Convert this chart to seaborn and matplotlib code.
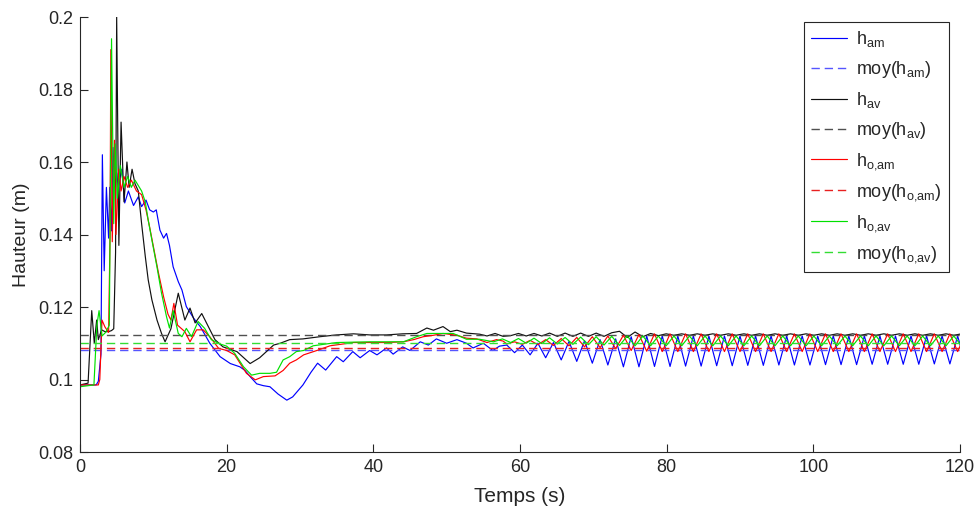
import numpy as np
import pandas as pd
import matplotlib
matplotlib.use("Agg")
import matplotlib.pyplot as plt
import seaborn as sns
from matplotlib.ticker import FormatStrFormatter

# ===============================================
# Données
# ===============================================

# temps des extrema dans le régime périodique (h_am et h_o,am)
t_osc_a = [58.2, 59.26, 60.32, 61.38, 62.44, 63.5, 64.56, 65.62, 66.68, 67.74,
           68.8, 69.86, 70.92, 71.98, 73.04, 74.1, 75.16, 76.22, 77.28, 78.34,
           79.4, 80.46, 81.52, 82.58, 83.64, 84.7, 85.76, 86.82, 87.88, 88.94,
           90.0, 91.06, 92.12, 93.18, 94.24, 95.3, 96.36, 97.42, 98.48, 99.54,
           100.6, 101.66, 102.72, 103.78, 104.84, 105.9, 106.96, 108.02, 109.08, 110.14,
           111.2, 112.26, 113.32, 114.38, 115.44, 116.5, 117.56, 118.62, 119.68, 120.74]

# temps des extrema dans le régime périodique (h_av et h_o,av)
t_osc_b = [58.73, 59.79, 60.85, 61.91, 62.97, 64.03, 65.09, 66.15, 67.21, 68.27,
           69.33, 70.39, 71.45, 72.51, 73.57, 74.63, 75.69, 76.75, 77.81, 78.87,
           79.93, 80.99, 82.05, 83.11, 84.17, 85.23, 86.29, 87.35, 88.41, 89.47,
           90.53, 91.59, 92.65, 93.71, 94.77, 95.83, 96.89, 97.95, 99.01, 100.07,
           101.13, 102.19, 103.25, 104.31, 105.37, 106.43, 107.49, 108.55, 109.61, 110.67,
           111.73, 112.79, 113.85, 114.91, 115.97, 117.03, 118.09, 119.15, 120.21]

# h_am (bleu)
t_am = [0, 2.2, 2.5, 2.86, 3.05, 3.3, 3.6, 3.9, 4.05, 4.3,
        4.5, 4.75, 5.0, 5.2, 5.7, 6.1, 6.6, 7.3, 7.95, 8.4,
        9.0, 9.5, 10.0, 10.4, 10.9, 11.4, 11.8, 12.2, 12.7, 13.4,
        13.9, 14.5, 15.0, 15.5, 16.4, 17.7, 19.1, 20.5, 21.8, 22.5,
        23.2, 24.1, 25.0, 25.9, 27.0, 28.2, 29.0, 30.4, 31.5, 32.4,
        33.5, 35.0, 35.9, 37.2, 38.2, 39.5, 40.5, 41.8, 42.7, 44.0,
        45.0, 46.4, 47.5, 48.6, 50.0, 51.4, 52.7, 53.6, 55.0, 56.3,
        57.2]
h_am = [0.0985, 0.0985, 0.0995, 0.107, 0.162, 0.130, 0.153, 0.139, 0.153, 0.141,
        0.164, 0.153, 0.157, 0.153, 0.158, 0.1487, 0.152, 0.148, 0.1504, 0.1477,
        0.1495, 0.1468, 0.1462, 0.1468, 0.1412, 0.1390, 0.1403, 0.137, 0.1311, 0.127,
        0.1247, 0.1201, 0.1185, 0.1169, 0.1146, 0.110, 0.1063, 0.1044, 0.1035, 0.1025,
        0.1008, 0.0988, 0.0983, 0.0980, 0.0960, 0.0943, 0.0952, 0.0985, 0.1020, 0.1045,
        0.1026, 0.1063, 0.1049, 0.1077, 0.1060, 0.1080, 0.1068, 0.1087, 0.1070, 0.1090,
        0.1080, 0.1104, 0.1095, 0.1112, 0.1100, 0.1110, 0.1100, 0.1087, 0.1100, 0.1080,
        0.1092]
h_am_osc = [0.1095, 0.1074, 0.1095, 0.1068, 0.1100, 0.1060, 0.1102, 0.1054, 0.1105, 0.1050,
            0.1107, 0.1045, 0.1110, 0.1040, 0.1112, 0.1035, 0.1118, 0.1035, 0.1120, 0.1036,
            0.1120, 0.1036, 0.1120, 0.1037, 0.1120, 0.1037, 0.1120, 0.1038, 0.1120, 0.1038,
            0.1120, 0.1039, 0.1120, 0.1039, 0.1120, 0.1040, 0.1120, 0.1040, 0.1120, 0.1040,
            0.1120, 0.1041, 0.1120, 0.1041, 0.1120, 0.1041, 0.1120, 0.1042, 0.1120, 0.1042,
            0.1120, 0.1042, 0.1120, 0.1042, 0.1120, 0.1043, 0.1120, 0.1043, 0.1120, 0.1043]

# h_av (noir)
t_av = [0, 1.1, 1.6, 1.95, 2.27, 2.5, 2.95, 3.4, 3.9, 4.3,
        4.6, 4.85, 5.0, 5.3, 5.6, 6.0, 6.4, 6.7, 7.1, 7.5,
        7.95, 8.4, 8.9, 9.3, 9.8, 10.5, 11.1, 11.6, 12.4, 13.4,
        14.3, 15.0, 15.7, 16.6, 17.5, 18.4, 19.5, 21.4, 23.2, 24.5,
        26.4, 27.3, 28.6, 30.4, 32.7, 35.0, 37.3, 39.5, 41.8, 44.0,
        45.9, 47.3, 48.2, 49.5, 50.5, 51.4, 52.7, 54.5, 55.5, 56.6,
        57.7]
h_av = [0.0985, 0.0990, 0.119, 0.110, 0.1164, 0.111, 0.1137, 0.1132, 0.1132, 0.1135,
        0.114, 0.135, 0.200, 0.137, 0.171, 0.149, 0.160, 0.153, 0.158, 0.154,
        0.152, 0.143, 0.134, 0.1275, 0.122, 0.1164, 0.1128, 0.1104, 0.114, 0.1238,
        0.1164, 0.1197, 0.1156, 0.1182, 0.1146, 0.111, 0.109, 0.1077, 0.1044, 0.106,
        0.1095, 0.110, 0.111, 0.1112, 0.1118, 0.1123, 0.1126, 0.1123, 0.1123, 0.1126,
        0.1127, 0.1142, 0.1136, 0.1146, 0.1132, 0.1136, 0.1128, 0.1125, 0.1120, 0.1127,
        0.1119]
h_av_osc = [0.1121, 0.1127, 0.1120, 0.1127, 0.1120, 0.1128, 0.1119, 0.1128, 0.1119, 0.1128,
            0.1119, 0.1128, 0.1119, 0.1129, 0.1133, 0.1116, 0.1131, 0.1118, 0.1127, 0.1121,
            0.1126, 0.1122, 0.1126, 0.1122, 0.1126, 0.1122, 0.1126, 0.1122, 0.1126, 0.1122,
            0.1126, 0.1122, 0.1126, 0.1122, 0.1126, 0.1122, 0.1126, 0.1122, 0.1126, 0.1122,
            0.1126, 0.1122, 0.1126, 0.1122, 0.1126, 0.1122, 0.1126, 0.1122, 0.1126, 0.1122,
            0.1126, 0.1122, 0.1126, 0.1122, 0.1126, 0.1122, 0.1126, 0.1122, 0.1126]

# h_o,am (rouge)
t_oam = [0, 2.5, 2.7, 3.0, 3.4, 3.9, 4.1, 4.2, 4.4, 4.7,
         4.9, 5.3, 5.6, 6.0, 6.5, 7.0, 7.7, 8.4, 9.0, 9.5,
         10.1, 10.7, 11.4, 12.0, 12.4, 12.8, 13.3, 14.3, 15.0, 15.9,
         16.8, 17.7, 18.9, 20.0, 21.1, 22.7, 23.9, 25.0, 26.6, 27.7,
         28.6, 29.5, 30.5, 32.3, 34.1, 37.3, 39.5, 41.8, 44.1, 45.5,
         46.8, 48.2, 49.5, 51.4, 52.7, 54.1, 55.5, 56.8, 57.7]
h_oam = [0.0985, 0.0985, 0.1000, 0.1164, 0.1145, 0.1130, 0.140, 0.191, 0.138, 0.166,
         0.140, 0.158, 0.152, 0.156, 0.153, 0.155, 0.152, 0.151, 0.1468, 0.142,
         0.1357, 0.1294, 0.1228, 0.118, 0.1164, 0.121, 0.1150, 0.1132, 0.1104, 0.1137,
         0.1137, 0.1118, 0.1086, 0.108, 0.1068, 0.1017, 0.0999, 0.1008, 0.101, 0.1025,
         0.1045, 0.1054, 0.1068, 0.108, 0.1093, 0.1102, 0.1102, 0.1102, 0.1104, 0.111,
         0.1118, 0.1122, 0.1127, 0.1122, 0.1114, 0.1112, 0.1102, 0.1110, 0.1106]
h_oam_osc = [0.1098, 0.1104, 0.1097, 0.1108, 0.1096, 0.1110, 0.1094, 0.1113, 0.1093, 0.1116,
             0.1090, 0.1118, 0.1088, 0.1120, 0.1085, 0.1122, 0.1080, 0.1124, 0.1078, 0.1126,
             0.1077, 0.1126, 0.1077, 0.1126, 0.1077, 0.1126, 0.1077, 0.1126, 0.1077, 0.1126,
             0.1077, 0.1126, 0.1077, 0.1126, 0.1077, 0.1126, 0.1077, 0.1126, 0.1077, 0.1126,
             0.1077, 0.1126, 0.1077, 0.1126, 0.1077, 0.1126, 0.1077, 0.1126, 0.1077, 0.1126,
             0.1077, 0.1126, 0.1077, 0.1126, 0.1077, 0.1126, 0.1077, 0.1126, 0.1077, 0.1126]

# h_o,av (vert)
t_oav = [0, 1.9, 2.3, 2.6, 3.0, 3.5, 4.0, 4.3, 4.6, 4.8,
         5.1, 5.5, 6.0, 6.5, 7.0, 7.5, 8.4, 8.9, 9.3, 9.8,
         10.5, 11.1, 11.8, 12.2, 12.7, 13.4, 13.9, 14.5, 15.2, 16.1,
         17.0, 17.9, 19.1, 20.0, 21.1, 22.3, 23.4, 24.5, 25.9, 26.8,
         27.7, 28.6, 29.5, 30.5, 31.8, 33.2, 35.0, 39.5, 44.1, 45.9,
         47.3, 49.1, 50.9, 52.7, 54.5, 56.4, 57.6]
h_oav = [0.0980, 0.0985, 0.1150, 0.1190, 0.112, 0.113, 0.115, 0.194, 0.143, 0.165,
         0.150, 0.159, 0.153, 0.156, 0.153, 0.155, 0.152, 0.149, 0.144, 0.1385,
         0.131, 0.124, 0.1173, 0.1142, 0.1190, 0.1127, 0.1118, 0.1141, 0.1118, 0.116,
         0.1141, 0.111, 0.1098, 0.1092, 0.1072, 0.1035, 0.1012, 0.1017, 0.1017, 0.1020,
         0.1054, 0.1063, 0.1077, 0.108, 0.1093, 0.1097, 0.1102, 0.1104, 0.1104, 0.1118,
         0.1127, 0.1127, 0.1127, 0.1111, 0.1111, 0.1104, 0.1112]
h_oav_osc = [0.1102, 0.1113, 0.1100, 0.1114, 0.1099, 0.1115, 0.1098, 0.1116, 0.1097, 0.1117,
             0.1096, 0.1118, 0.1095, 0.1119, 0.1094, 0.1120, 0.1093, 0.1120, 0.1093, 0.1120,
             0.1093, 0.1120, 0.1093, 0.1120, 0.1093, 0.1120, 0.1093, 0.1120, 0.1093, 0.1120,
             0.1093, 0.1120, 0.1093, 0.1120, 0.1093, 0.1120, 0.1093, 0.1120, 0.1093, 0.1120,
             0.1093, 0.1120, 0.1093, 0.1120, 0.1093, 0.1120, 0.1093, 0.1120, 0.1093, 0.1120,
             0.1093, 0.1120, 0.1093, 0.1120, 0.1093, 0.1120, 0.1093, 0.1120, 0.1093]

# moyennes (lignes en tirets)
moyennes = [0.1081, 0.1124, 0.1087, 0.1100]

labels = [r"$\mathregular{h_{am}}$", r"$\mathregular{h_{av}}$",
          r"$\mathregular{h_{o{,}am}}$", r"$\mathregular{h_{o{,}av}}$"]
labels_moy = [r"$\mathregular{moy(h_{am})}$", r"$\mathregular{moy(h_{av})}$",
              r"$\mathregular{moy(h_{o{,}am})}$", r"$\mathregular{moy(h_{o{,}av})}$"]
couleurs = ["#0000ff", "#111111", "#ff0000", "#00e000"]
couleurs_moy = ["#5555ff", "#505050", "#e82020", "#33dd33"]

series = [
    (t_am + t_osc_a, h_am + h_am_osc),
    (t_av + t_osc_b, h_av + h_av_osc),
    (t_oam + t_osc_a, h_oam + h_oam_osc),
    (t_oav + t_osc_b, h_oav + h_oav_osc),
]

# ===============================================
# Figure
# ===============================================
sns.set_theme(style="white")
plt.rcParams["font.family"] = ["Liberation Sans", "DejaVu Sans"]
plt.rcParams["mathtext.default"] = "regular"

fig = plt.figure(figsize=(9.78, 5.16), dpi=100)
ax = fig.add_axes([80 / 978, 1 - 452 / 516, 880 / 978, 435 / 516])

for (t, h), lab, c, m, lab_m, cm in zip(series, labels, couleurs, moyennes, labels_moy, couleurs_moy):
    df = pd.DataFrame({"t": t, "h": h})
    sns.lineplot(data=df, x="t", y="h", ax=ax, color=c, lw=0.85,
                 estimator=None, sort=False, label=lab)
    ax.axhline(m, color=cm, lw=1.0, ls=(0, (6, 3.5)), label=lab_m)

ax.set_xlim(0, 120)
ax.set_ylim(0.08, 0.2)
ax.set_xticks([0, 20, 40, 60, 80, 100, 120])
ax.set_yticks([0.08, 0.1, 0.12, 0.14, 0.16, 0.18, 0.2])
ax.yaxis.set_major_formatter(FormatStrFormatter("%g"))
ax.tick_params(bottom=True, left=True, direction="in", length=6, width=0.8,
               labelsize=13, colors="#262626", pad=5)
for s in ["top", "right"]:
    ax.spines[s].set_visible(False)
for s in ["left", "bottom"]:
    ax.spines[s].set_color("#262626")
    ax.spines[s].set_linewidth(0.8)

ax.set_xlabel("Temps (s)", fontsize=15, color="#262626", labelpad=8)
ax.set_ylabel("Hauteur (m)", fontsize=14, color="#262626", labelpad=6)

leg = ax.legend(loc="upper right", bbox_to_anchor=(0.9875, 0.988), fontsize=13,
                frameon=True, fancybox=False, framealpha=1, edgecolor="#262626",
                handlelength=2.0, handletextpad=0.5, labelspacing=0.55,
                borderpad=0.4, borderaxespad=0)
leg.get_frame().set_linewidth(0.8)

fig.savefig("out.png", dpi=100)
